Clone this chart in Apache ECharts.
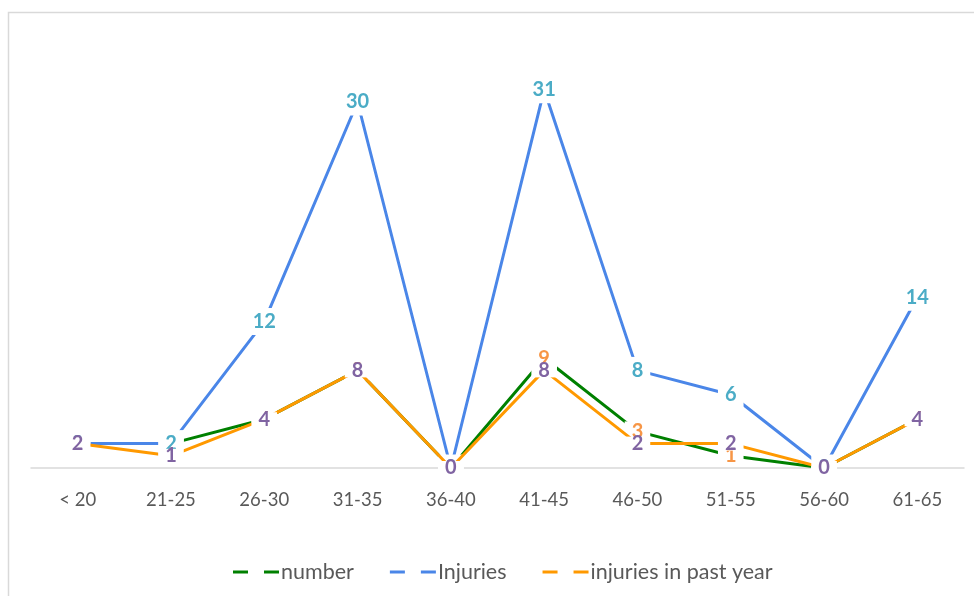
<!DOCTYPE html>
<html><head><meta charset="utf-8">
<script src="https://cdn.jsdelivr.net/npm/echarts@6/dist/echarts.min.js"></script>
<style>html,body{margin:0;padding:0;background:#fff;}#c{width:974px;height:596px;}</style>
</head><body><div id="c"></div>
<script>
const categories = ['< 20','21-25','26-30','31-35','36-40','41-45','46-50','51-55','56-60','61-65'];
const numberValues = [2, 2, 4, 8, 0, 9, 3, 1, 0, 4];
const injuriesValues = [2, 2, 12, 30, 0, 31, 8, 6, 0, 14];
const pastYearValues = [2, 1, 4, 8, 0, 8, 2, 2, 0, 4];
const seriesNames = ['number', 'Injuries', 'injuries in past year'];

const font = 'Lato, "Open Sans", sans-serif';
const dashIcon = 'path://M0,0H15V3H0Z M31,0H46V3H31Z';
function lbl(color, pad, lh){
  return {show:true, position:'inside', color:color, fontFamily:font, fontWeight:'bold', fontSize:20,
          lineHeight:lh, backgroundColor:'#fff', padding:pad};
}
const chart = echarts.init(document.getElementById('c'), null, {renderer:'canvas'});
chart.setOption({
  animation:false,
  backgroundColor:'#fff',
  graphic:[{type:'rect', shape:{x:8.5,y:12.5,width:1200,height:1200}, style:{fill:'none', stroke:'#d9d9d9', lineWidth:1.5}, z:-10}],
  grid:{left:31, right:10, top:41, bottom:128, containLabel:false},
  legend:{
    top:556, left:228, itemWidth:46, itemHeight:3, itemGap:36,
    textStyle:{color:'#595959', fontFamily:font, fontSize:21.5, padding:[0,0,0,-3]},
    data:[{name:seriesNames[0], icon:dashIcon},{name:seriesNames[1], icon:dashIcon},{name:seriesNames[2], icon:dashIcon}]
  },
  xAxis:{type:'category', data:categories, boundaryGap:true,
    axisLine:{lineStyle:{color:'#d9d9d9', width:1.5}}, axisTick:{show:false},
    axisLabel:{color:'#595959', fontFamily:font, fontSize:18.5, margin:23}},
  yAxis:{type:'value', min:0, max:35, interval:5, show:false, splitLine:{show:false}},
  series:[
    {name:seriesNames[0], type:'line', data:numberValues, showSymbol:true, symbol:'circle', symbolSize:0,
     lineStyle:{color:'#008000', width:3}, itemStyle:{color:'#008000'}, label:lbl('#F79646',[2,7,2,7],16), z:2},
    {name:seriesNames[1], type:'line', data:injuriesValues, showSymbol:true, symbol:'circle', symbolSize:0,
     lineStyle:{color:'#4a86e8', width:3}, itemStyle:{color:'#4a86e8'}, label:lbl('#4BACC6',[5,7,4,7],18), z:3},
    {name:seriesNames[2], type:'line', data:pastYearValues, showSymbol:true, symbol:'circle', symbolSize:0,
     lineStyle:{color:'#ff9900', width:3}, itemStyle:{color:'#ff9900'}, label:lbl('#8064A2',[0,7,0,7],14), z:4}
  ]
});
</script></body></html>
